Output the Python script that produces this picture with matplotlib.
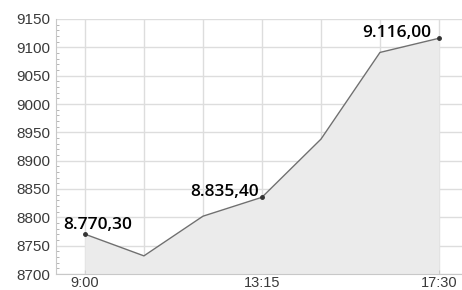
import matplotlib
matplotlib.use("Agg")
import matplotlib.pyplot as plt
from matplotlib.ticker import MultipleLocator

times = ["9:00", "10:25", "11:50", "13:15", "14:40", "16:05", "17:30"]
values = [8770.30, 8732, 8802, 8835.40, 8938, 9091, 9116.00]
tick_labels = ["9:00", "", "", "13:15", "", "", "17:30"]
labelled = [0, 3, 6]
label_texts = ["8.770,30", "8.835,40", "9.116,00"]

fig = plt.figure(figsize=(4.62, 2.90), dpi=100)
ax = fig.add_axes([56/462, 16/290, 1 - 56/462, (274-19)/290])

x = list(range(len(times)))
ax.fill_between(x, values, 8700, color="#ebebeb", linewidth=0, zorder=1)
ax.plot(x, values, color="#707070", linewidth=1.0, zorder=3)
ax.plot([x[i] for i in labelled], [values[i] for i in labelled], "o",
        color="#333333", markersize=2.5, zorder=4)

ax.set_xlim(-0.49, 6.39)
ax.set_ylim(8700, 9150)
ax.set_xticks(x)
ax.set_xticklabels(tick_labels)
ax.yaxis.set_major_locator(MultipleLocator(50))
ax.yaxis.set_minor_locator(MultipleLocator(10))

ax.grid(True, which="major", color="#dddddd", linewidth=1.0, zorder=0)
ax.set_axisbelow(True)

for s in ["top", "right"]:
    ax.spines[s].set_visible(False)
ax.spines["left"].set_color("#c8c8c8")
ax.spines["bottom"].set_color("#c8c8c8")

ax.tick_params(axis="both", labelsize=11, labelcolor="#3a3a3a", colors="#aaaaaa")
ax.tick_params(axis="x", direction="in", length=3, pad=1.5, labelsize=10.5)
ax.tick_params(axis="y", which="major", direction="in", length=0, pad=4)
ax.tick_params(axis="y", which="minor", direction="in", length=2, color="#aaaaaa")
for lab in ax.get_xticklabels() + ax.get_yticklabels():
    lab.set_fontfamily("Liberation Sans")
    lab.set_color("#3a3a3a")

offsets = [(-22, 5, "left"), (-3, 1, "right"), (-8, 1, "right")]
for i, txt, (dx, dy, ha) in zip(labelled, label_texts, offsets):
    ax.annotate(txt, (x[i], values[i]), xytext=(dx, dy), textcoords="offset pixels",
                ha=ha, va="baseline", fontsize=12.5, family="Open Sans",
                weight="semibold", color="#000000", zorder=5)

fig.savefig("out.png", dpi=100)
